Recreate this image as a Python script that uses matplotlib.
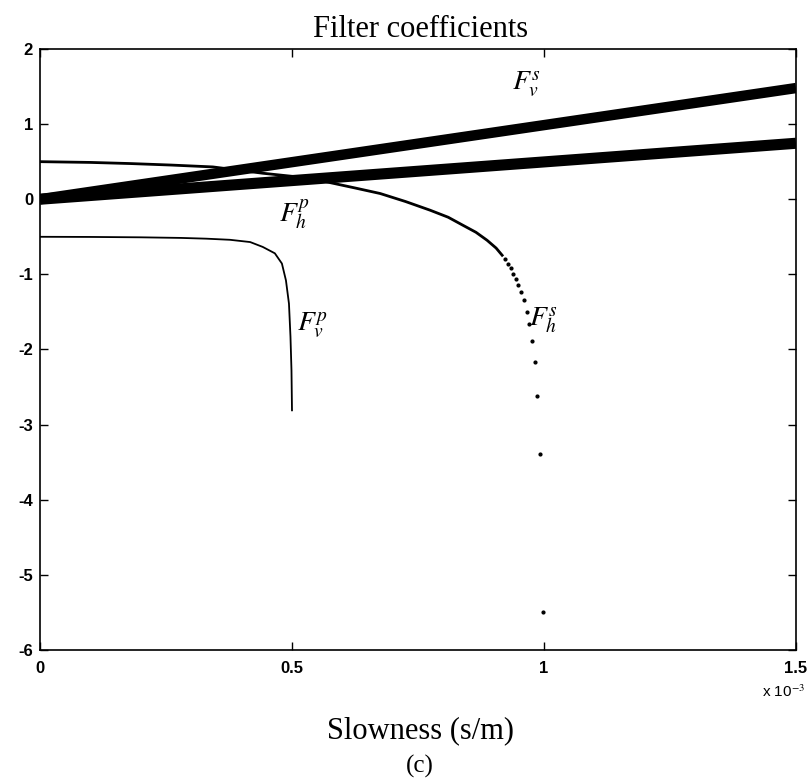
import matplotlib
matplotlib.use('Agg')
import matplotlib.pyplot as plt
from matplotlib.ticker import FuncFormatter

plt.rcParams['mathtext.fontset'] = 'stix'

# slowness in s/m
p_vs = [0.0, 1.5e-3]
Fvs = [0.0, 1.48]
p_hp = [0.0, 1.5e-3]
Fhp = [0.0, 0.745]

p_vp = [0.0, 0.1e-3, 0.2e-3, 0.28e-3, 0.33e-3, 0.377e-3, 0.417e-3, 0.442e-3,
        0.466e-3, 0.48e-3, 0.488e-3, 0.494e-3, 0.497e-3, 0.499e-3, 0.5e-3]
Fvp = [-0.5, -0.502, -0.507, -0.515, -0.525, -0.54, -0.57, -0.635,
       -0.72, -0.856, -1.08, -1.39, -1.83, -2.28, -2.81]

p_hs = [0.0, 0.1e-3, 0.179e-3, 0.26e-3, 0.343e-3, 0.442e-3, 0.536e-3, 0.575e-3,
        0.625e-3, 0.675e-3, 0.725e-3, 0.774e-3, 0.81e-3, 0.839e-3, 0.865e-3,
        0.887e-3, 0.905e-3, 0.917e-3]
Fhs = [0.5, 0.49, 0.475, 0.455, 0.43, 0.346, 0.28, 0.222,
       0.15, 0.076, -0.03, -0.146, -0.24, -0.346, -0.44,
       -0.546, -0.65, -0.746]
# sparse tail near the singularity, plotted as single samples
p_hs_dots = [0.922e-3, 0.928e-3, 0.934e-3, 0.939e-3, 0.944e-3, 0.949e-3, 0.955e-3,
             0.960e-3, 0.966e-3, 0.971e-3, 0.976e-3, 0.982e-3, 0.987e-3, 0.993e-3, 0.998e-3]
Fhs_dots = [-0.80, -0.86, -0.92, -0.99, -1.06, -1.14, -1.24,
            -1.345, -1.50, -1.66, -1.89, -2.17, -2.62, -3.39, -5.50]

fig = plt.figure(figsize=(8.11, 7.8), dpi=100)
ax = fig.add_axes([0.0493, 0.1667, 0.9322, 0.7705])

ax.plot(p_vs, Fvs, 'k-', lw=7.5, solid_capstyle='butt')
ax.plot(p_hp, Fhp, 'k-', lw=8, solid_capstyle='butt')
ax.plot(p_vp, Fvp, 'k-', lw=1.3)
ax.plot(p_hs, Fhs, 'k-', lw=2.0)
ax.plot(p_hs_dots, Fhs_dots, 'k.', ms=4)

lab = dict(fontsize=20, ha='center', va='center')
ax.text(0.966e-3, 1.52, r'$F_v^s$', **lab)
ax.text(0.506e-3, -0.2, r'$F_h^p$', **lab)
ax.text(0.54e-3, -1.68, r'$F_v^p$', **lab)
ax.text(1.0e-3, -1.62, r'$F_h^s$', **lab)

ax.set_xlim(0, 1.5e-3)
ax.set_ylim(-6, 2)
ax.set_xticks([0, 0.5e-3, 1e-3, 1.5e-3])
ax.set_yticks(range(-6, 3))
ax.xaxis.set_major_formatter(FuncFormatter(lambda v, pos: '%g' % round(v * 1e3, 3)))
ax.yaxis.set_major_formatter(FuncFormatter(lambda v, pos: '%d' % v))
ax.tick_params(direction='in', length=6, width=1, top=True, right=True,
               labelsize=12)
ax.tick_params(axis='x', pad=8)
ax.tick_params(axis='y', pad=5)
for t in ax.get_xticklabels() + ax.get_yticklabels():
    t.set_family('Liberation Sans')
    t.set_fontweight('bold')
for s in ax.spines.values():
    s.set_linewidth(1.2)

ax.text(1.012, -0.07, r'x 10$^{-3}$', transform=ax.transAxes, ha='right',
        va='center', fontsize=11, family='Liberation Sans')
fig.text(0.518, 0.962, 'Filter coefficients', ha='center', va='center',
         fontsize=22, family='Liberation Serif')
fig.text(0.518, 0.063, 'Slowness (s/m)', ha='center', va='center',
         fontsize=22, family='Liberation Serif')
fig.text(0.518, 0.018, '(c)', ha='center', va='center',
         fontsize=18, family='Liberation Serif')

fig.savefig('out.png', dpi=100)
